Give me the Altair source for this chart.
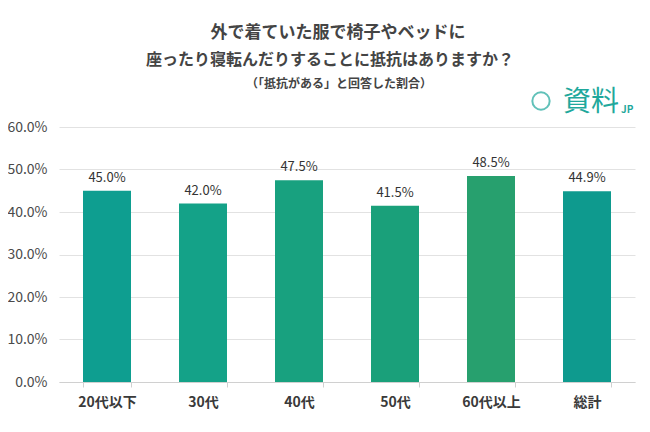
import altair as alt
import pandas as pd

categories = ["20代以下", "30代", "40代", "50代", "60代以上", "総計"]
values = [45.0, 42.0, 47.5, 41.5, 48.5, 44.9]
colors = ["#0E9E90", "#14A288", "#18A17F", "#1AA07A", "#27A06E", "#0E9A8E"]

title_line1 = "外で着ていた服で椅子やベッドに"
title_line2 = "座ったり寝転んだりすることに抵抗はありますか？"
subtitle = "（「抵抗がある」と回答した割合）"

FONT = "Noto Sans CJK JP"

df = pd.DataFrame({"cat": categories, "val": [v / 100 for v in values], "color": colors})
df["label"] = [f"{v:.1f}%" for v in values]

x = alt.X("cat:N", sort=categories,
          scale=alt.Scale(paddingInner=0.5, paddingOuter=0.25),
          axis=alt.Axis(title=None, labelAngle=0, labelFont=FONT, labelFontSize=14,
                        labelFontWeight="bold", labelColor="#3a3a3a", labelPadding=8,
                        domainColor="#d0d0d0", tickColor="#d0d0d0", tickSize=5,
                        tickBand="extent", grid=False))
y = alt.Y("val:Q", scale=alt.Scale(domain=[0, 0.6]),
          axis=alt.Axis(title=None, format=".1%", values=[0, 0.1, 0.2, 0.3, 0.4, 0.5, 0.6],
                        labelFont=FONT, labelFontSize=14, labelColor="#4a4a4a",
                        labelPadding=12, domain=False, ticks=False,
                        gridColor="#e2e2e2", gridWidth=1))

bars = alt.Chart(df).mark_bar().encode(
    x=x, y=y, color=alt.Color("color:N", scale=None))

labels = alt.Chart(df).mark_text(dy=-6, baseline="bottom", font=FONT, fontSize=13,
                                 color="#333333").encode(
    x=alt.X("cat:N", sort=categories), y="val:Q", text="label:N")

tdf = pd.DataFrame({"t": [title_line1, title_line2, subtitle],
                    "px": [338, 330, 339], "py": [-94, -67, -43],
                    "fs": [17, 16, 12]})

def txt(i):
    return alt.Chart(tdf.iloc[[i]]).mark_text(
        font=FONT, fontWeight="bold", fontSize=int(tdf.fs[i]), color="#444444",
        align="center", baseline="middle").encode(
        x=alt.value(int(tdf.px[i]) - 59), y=alt.value(int(tdf.py[i])), text="t:N")

logo_df = pd.DataFrame({"t": ["資料", "JP"]})
logo1 = alt.Chart(logo_df.iloc[[0]]).mark_text(
    font=FONT, fontSize=28, color="#1FA89C", align="left", baseline="middle").encode(
    x=alt.value(563 - 59), y=alt.value(-24), text="t:N")
logo2 = alt.Chart(logo_df.iloc[[1]]).mark_text(
    font=FONT, fontSize=10, fontWeight="bold", color="#1FA89C", align="left",
    baseline="middle").encode(x=alt.value(621 - 59), y=alt.value(-17), text="t:N")
icon = alt.Chart(logo_df.iloc[[0]]).mark_point(
    shape="circle", size=300, filled=False, color="#1FA89C", strokeWidth=2).encode(
    x=alt.value(541 - 59), y=alt.value(-26))

chart = alt.layer(bars, labels, txt(0), txt(1), txt(2), logo1, logo2, icon).properties(
    width=576, height=255,
    padding={"left": 51, "top": 119, "right": 7, "bottom": 40},
    autosize=alt.AutoSizeParams(type="none"),
    background="white",
).configure_view(stroke=None)

chart.save("out.html", embed_options={"renderer": "svg", "actions": False})
